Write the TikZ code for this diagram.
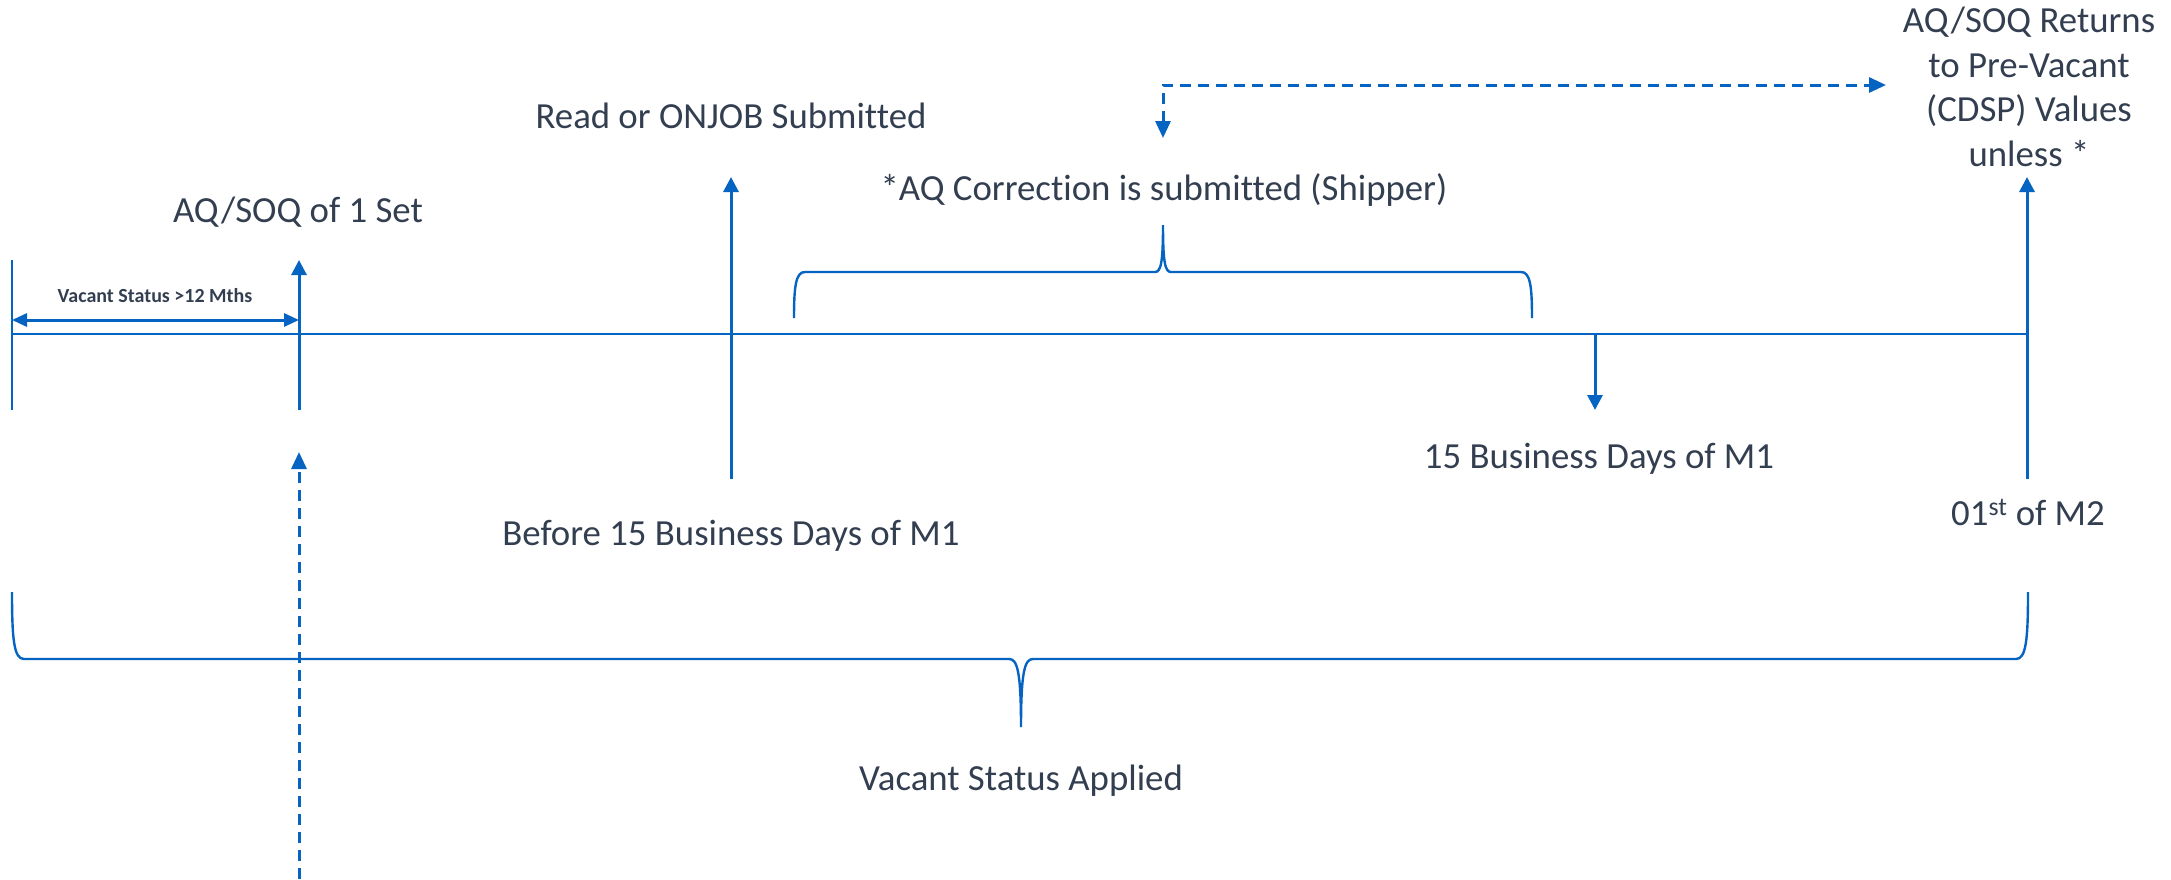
\documentclass[tikz,border=0pt]{standalone}
\usepackage{fontspec}
\setmainfont{Carlito}[Ligatures={NoCommon}]
\usetikzlibrary{arrows.meta}
\definecolor{lineblue}{RGB}{5,99,193}
\definecolor{txt}{RGB}{51,63,80}
\begin{document}
\begin{tikzpicture}[x=1pt,y=-1pt,
  lbl/.style={text=txt,inner sep=0pt,font=\fontsize{36.8}{44.6}\selectfont},
  small/.style={text=txt,inner sep=0pt,font=\fontsize{20}{24}\selectfont\bfseries},
  tl/.style={draw=lineblue,line width=2.2pt},
  arr/.style={draw=lineblue,line width=3pt,-{Triangle[width=15pt,length=15pt]}},
  dblarr/.style={draw=lineblue,line width=3pt,{Triangle[width=13pt,length=15pt]}-{Triangle[width=13pt,length=15pt]}},
  darr/.style={draw=lineblue,line width=3pt,dash pattern=on 11pt off 7pt,-{Triangle[width=15pt,length=17pt]}},
  ddarr/.style={draw=lineblue,line width=3pt,dash pattern=on 11pt off 7pt,{Triangle[width=15pt,length=17pt]}-{Triangle[width=15pt,length=17pt]}},
  bracestyle/.style={draw=lineblue,line width=2.4pt}]
\useasboundingbox (0,0) rectangle (2171,879);

% timeline
\coordinate (L0) at (12,334);
\coordinate (R0) at (2027,334);
\draw[tl] (L0) -- (R0);

% left tick
\coordinate (LT1) at (12,260);
\coordinate (LT2) at (12,410);
\draw[tl] (LT1) -- (LT2);

% vacant status >12 mths
\coordinate (VA) at (12,320);
\coordinate (VB) at (299,320);
\draw[dblarr] (VA) -- (VB);
\node[small,anchor=base] (vlbl) at (155,302) {Vacant Status >12 Mths};

% AQ/SOQ of 1 set
\coordinate (AQb) at (299,410);
\coordinate (AQt) at (299,260);
\draw[arr] (AQb) -- (AQt);
\node[lbl,anchor=base] (aqlbl) at (298,222) {AQ/SOQ of 1 Set};

% dashed up arrow at bottom
\coordinate (DUb) at (299,879);
\coordinate (DUt) at (299,452);
\draw[darr] (DUb) -- (DUt);

% read or onjob
\coordinate (RDb) at (731,479);
\coordinate (RDt) at (731,177);
\draw[arr] (RDb) -- (RDt);
\node[lbl,anchor=base] (readlbl) at (731,128) {Read or ONJOB Submitted};
\node[lbl,anchor=base] (beflbl) at (731,545) {Before 15 Business Days of M1};

% top brace
\coordinate (TBl) at (794,318);
\coordinate (TBr) at (1532,318);
\coordinate (TBtip) at (1163,225);
\draw[bracestyle] (TBl) .. controls (794,285) and (796,272) .. (805,272) -- (1155,272)
  .. controls (1161,272) and (1163,262) .. (TBtip)
  .. controls (1163,262) and (1165,272) .. (1171,272) -- (1521,272)
  .. controls (1530,272) and (1532,285) .. (TBr);
\node[lbl,anchor=base] (corrlbl) at (1164,200) {*AQ Correction is submitted (Shipper)};

% dashed L arrow
\coordinate (DLv) at (1163,138);
\coordinate (DLc) at (1163,85);
\coordinate (DLh) at (1886,85);
\draw[ddarr] (DLv) -- (DLc) -- (DLh);

% 15 business days
\coordinate (BDt) at (1595,334);
\coordinate (BDb) at (1595,410);
\draw[arr] (BDt) -- (BDb);
\node[lbl,anchor=base] (bdlbl) at (1599,468) {15 Business Days of M1};

% right arrow
\coordinate (RAb) at (2027,479);
\coordinate (RAt) at (2027,177);
\draw[arr] (RAb) -- (RAt);
\node[lbl,anchor=base] (m2lbl) at (2028,525) {01\textsuperscript{st} of M2};
\node[lbl,align=center] (retlbl) at (2029,87) {AQ/SOQ Returns\\to Pre-Vacant\\(CDSP) Values\\unless *};

% bottom brace
\coordinate (BBl) at (12,592);
\coordinate (BBr) at (2028,592);
\coordinate (BBtip) at (1021,727);
\draw[bracestyle] (BBl) .. controls (12,640) and (14,659) .. (24,659) -- (1009,659)
  .. controls (1017,659) and (1021,670) .. (BBtip)
  .. controls (1021,670) and (1025,659) .. (1033,659) -- (2016,659)
  .. controls (2026,659) and (2028,640) .. (BBr);
\node[lbl,anchor=base] (applbl) at (1021,790) {Vacant Status Applied};
\end{tikzpicture}
\end{document}
